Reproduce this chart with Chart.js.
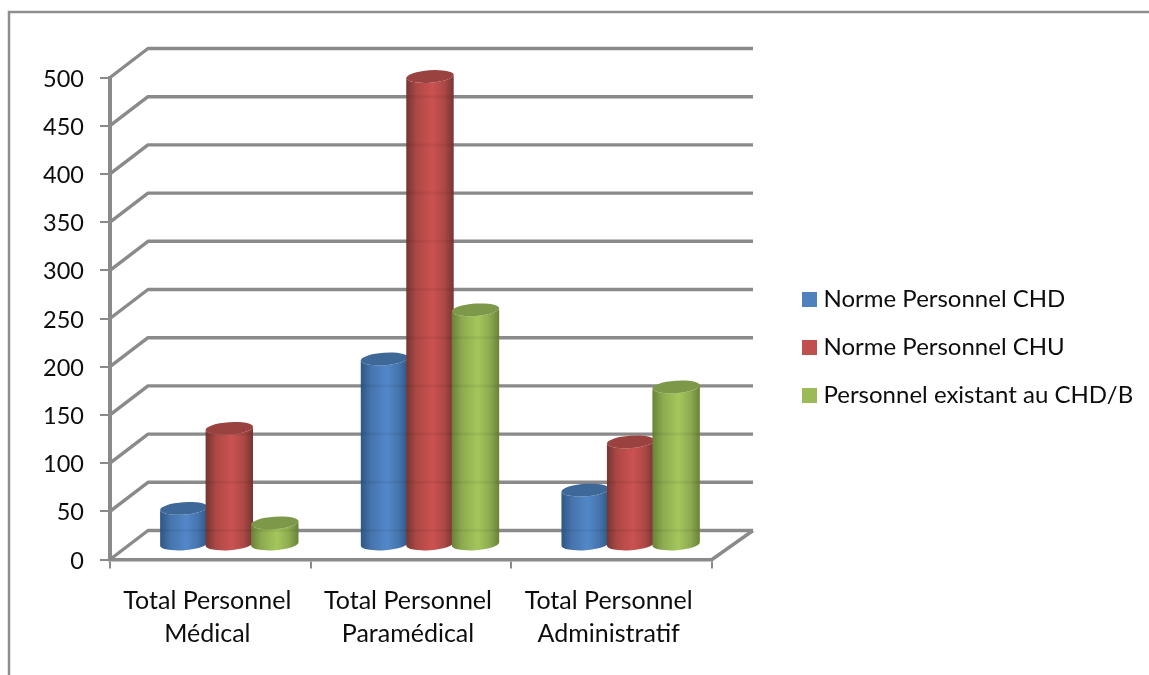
<!DOCTYPE html>
<html>
<head>
<meta charset="utf-8">
<style>
  html, body { margin: 0; padding: 0; background: #fff; }
  #wrap { position: relative; width: 1149px; height: 675px; }
</style>
<script src="https://cdn.jsdelivr.net/npm/chart.js@4"></script>
</head>
<body>
<div id="wrap"><canvas id="chart" width="1149" height="675"></canvas></div>
<script>
const categories = [
  ['Total Personnel', 'Médical'],
  ['Total Personnel', 'Paramédical'],
  ['Total Personnel', 'Administratif']
];
const seriesNames = ['Norme Personnel CHD', 'Norme Personnel CHU', 'Personnel existant au CHD/B'];
const normeCHD = [38, 193, 57];
const normeCHU = [121, 486, 107];
const existantCHD = [23, 244, 164];

const seriesColors = ['#4f81bd', '#c0504d', '#9bbb59'];
// edge, shoulder, centre and lid shades of each cylinder
const cylinderShades = [
  { edge: '#2f5685', side: '#4674ad', mid: '#5288c9', lid: '#3d6898' },
  { edge: '#763533', side: '#ad4845', mid: '#cb5250', lid: '#9a4240' },
  { edge: '#6a8238', side: '#8dab50', mid: '#a4c65c', lid: '#7d9848' }
];

const FONT = 'Lato, Carlito, sans-serif';
const TEXT = '#0d0d0d';
const LINE = '#8a8a8a';
const DEPTH_X = 39;
const DEPTH_Y = 29;

function strokePath(ctx, pts, width, color) {
  ctx.beginPath();
  pts.forEach((p, i) => i ? ctx.lineTo(p[0], p[1]) : ctx.moveTo(p[0], p[1]));
  ctx.lineWidth = width;
  ctx.strokeStyle = color;
  ctx.stroke();
}

// Back wall and floor of the 3D box, following the value scale
const wallsPlugin = {
  id: 'walls',
  beforeDatasetsDraw(chart) {
    const { ctx, scales: { x, y } } = chart;
    ctx.save();
    ctx.lineJoin = 'round';
    y.ticks.forEach(t => {
      const py = y.getPixelForValue(t.value);
      strokePath(ctx, [[x.left, py], [x.left + DEPTH_X - 1, py - DEPTH_Y], [x.right + DEPTH_X + 2, py - DEPTH_Y]], 3.4, LINE);
    });
    const y0 = y.getPixelForValue(0);
    strokePath(ctx, [[x.right, y0], [x.right + DEPTH_X + 2, y0 - DEPTH_Y]], 3.4, LINE);
    ctx.restore();
  }
};

// Each bar element is painted as a tilted cylinder standing mid-depth in the box
const cylinderPlugin = {
  id: 'cylinders',
  afterDatasetsDraw(chart) {
    const { ctx, scales: { y } } = chart;
    const dx = DEPTH_X / 2, dy = DEPTH_Y / 2;
    chart.data.datasets.forEach((ds, d) => {
      const shade = cylinderShades[d];
      chart.getDatasetMeta(d).data.forEach(bar => {
        const { x, y: top, base, width } = bar.getProps(['x', 'y', 'base', 'width'], true);
        const cx = x + dx - 0.5, rx = width / 2 + 1, ry = 6.2, tilt = -0.07;
        const yTop = top - dy, yBase = base - dy;
        const grad = ctx.createLinearGradient(cx - rx, 0, cx + rx, 0);
        grad.addColorStop(0, shade.edge);
        grad.addColorStop(0.22, shade.side);
        grad.addColorStop(0.55, shade.mid);
        grad.addColorStop(0.8, shade.side);
        grad.addColorStop(1, shade.edge);
        ctx.save();
        ctx.beginPath();
        ctx.ellipse(cx, yBase, rx, ry, tilt, 0, Math.PI);
        ctx.lineTo(cx - rx, yTop);
        ctx.ellipse(cx, yTop, rx, ry, tilt, Math.PI, 0, true);
        ctx.closePath();
        ctx.fillStyle = grad;
        ctx.fill();
        // faint bands where the wall lines show through
        ctx.clip();
        y.ticks.forEach(t => {
          const py = y.getPixelForValue(t.value) - DEPTH_Y;
          strokePath(ctx, [[cx - rx, py], [cx + rx, py]], 3, 'rgba(0,0,0,0.05)');
        });
        ctx.restore();
        ctx.beginPath();
        ctx.ellipse(cx, yTop, rx, ry, tilt, 0, Math.PI * 2);
        ctx.fillStyle = shade.lid;
        ctx.fill();
      });
    });
  }
};

// Outer frame and the side legend
const framePlugin = {
  id: 'frame',
  afterDraw(chart) {
    const { ctx } = chart;
    ctx.save();
    strokePath(ctx, [[9, 675], [9, 12], [1149, 12]], 2.5, '#8e8e8e');
    ctx.font = '24px ' + FONT;
    ctx.textAlign = 'left';
    ctx.textBaseline = 'middle';
    seriesNames.forEach((name, i) => {
      const top = 292 + i * 48;
      ctx.fillStyle = seriesColors[i];
      ctx.fillRect(802, top, 15, 15);
      ctx.fillStyle = TEXT;
      ctx.fillText(name, 823.5, top + 7);
    });
    ctx.restore();
  }
};

new Chart(document.getElementById('chart'), {
  type: 'bar',
  data: {
    labels: categories,
    datasets: [
      { label: seriesNames[0], data: normeCHD, backgroundColor: 'transparent' },
      { label: seriesNames[1], data: normeCHU, backgroundColor: 'transparent' },
      { label: seriesNames[2], data: existantCHD, backgroundColor: 'transparent' }
    ]
  },
  plugins: [wallsPlugin, cylinderPlugin, framePlugin],
  options: {
    responsive: false,
    animation: false,
    categoryPercentage: 0.68,
    barPercentage: 1,
    layout: { padding: { left: 0, top: 77.5, right: 437, bottom: 0 } },
    plugins: { legend: { display: false }, tooltip: { enabled: false } },
    scales: {
      x: {
        afterFit(scale) { scale.height = 115.5; },
        grid: { drawOnChartArea: false, drawTicks: true, tickLength: 9, color: LINE, lineWidth: 2 },
        border: { color: LINE, width: 3.4 },
        ticks: {
          color: TEXT,
          font: { family: FONT, size: 25, lineHeight: 1.32 },
          padding: 16,
          labelOffset: -3,
          maxRotation: 0
        }
      },
      y: {
        min: 0,
        max: 500,
        afterFit(scale) { scale.width = 110; },
        grid: { drawOnChartArea: false, drawTicks: true, tickLength: 10, color: LINE, lineWidth: 2 },
        border: { color: LINE, width: 4 },
        ticks: {
          stepSize: 50,
          color: TEXT,
          font: { family: FONT, size: 23.5 },
          padding: 16,
          labelOffset: 1.5
        }
      }
    }
  }
});
</script>
</body>
</html>
